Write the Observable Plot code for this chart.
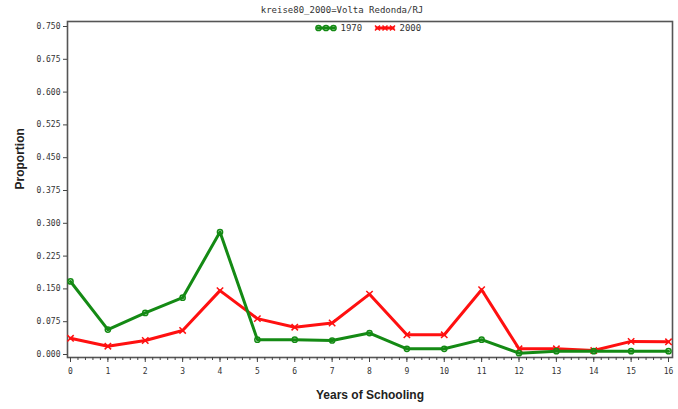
<!DOCTYPE html>
<html>
<head>
<meta charset="utf-8">
<script src="https://cdn.jsdelivr.net/npm/d3@7"></script>
<script src="https://cdn.jsdelivr.net/npm/@observablehq/plot@0.6"></script>
<style>
  body { margin: 0; background: #fff; }
</style>
</head>
<body>
<div id="chart"></div>
<script>
// Share of population by completed years of schooling, Volta Redonda/RJ
const years = [0, 1, 2, 3, 4, 5, 6, 7, 8, 9, 10, 11, 12, 13, 14, 15, 16];
const share1970 = [0.167, 0.057, 0.095, 0.130, 0.280, 0.034, 0.034, 0.032, 0.049, 0.013, 0.013, 0.034, 0.003, 0.0075, 0.0075, 0.0075, 0.0075];
const share2000 = [0.037, 0.019, 0.032, 0.055, 0.146, 0.082, 0.0625, 0.072, 0.138, 0.045, 0.045, 0.148, 0.013, 0.013, 0.009, 0.030, 0.029];
const seriesNames = ["1970", "2000"];
const seriesColors = ["#148a14", "#ff1010"];
const yTicks = [0, 0.075, 0.15, 0.225, 0.3, 0.375, 0.45, 0.525, 0.6, 0.675, 0.75];
const minorTicks = d3.range(0, 16.0001, 0.2).map(v => +v.toFixed(1));

const rows1970 = years.map((x, i) => ({x, y: share1970[i], series: seriesNames[0]}));
const rows2000 = years.map((x, i) => ({x, y: share2000[i], series: seriesNames[1]}));

const tickFont = "DejaVu Sans Mono";
const labelFont = "Liberation Sans";

const plot = Plot.plot({
  width: 678,
  height: 409,
  marginLeft: 67,
  marginRight: 6,
  marginTop: 21,
  marginBottom: 52,
  style: {fontFamily: tickFont, fontSize: "8px", color: "#333", background: "#fff", overflow: "visible"},
  x: {domain: [0, 16], insetLeft: 3, insetRight: 4, label: null},
  y: {domain: [0, 0.75], insetTop: 5, insetBottom: 3, label: null},
  marks: [
    Plot.frame({stroke: "#555", strokeWidth: 1.6}),
    Plot.axisX({ticks: minorTicks, tickSize: 3, text: null, stroke: "#444"}),
    Plot.axisX({ticks: years, tickSize: 5, tickPadding: 6, tickFormat: d3.format("d"), stroke: "#444", fill: "#333"}),
    Plot.axisY({ticks: yTicks, tickSize: 4, tickPadding: 3, tickFormat: d3.format(".3f"), stroke: "#444", fill: "#333"}),
    Plot.line(rows2000, {x: "x", y: "y", stroke: seriesColors[1], strokeWidth: 3}),
    Plot.dot(rows2000, {x: "x", y: "y", symbol: "times", r: 3, stroke: seriesColors[1], strokeWidth: 1.5}),
    Plot.line(rows1970, {x: "x", y: "y", stroke: seriesColors[0], strokeWidth: 3}),
    Plot.dot(rows1970, {x: "x", y: "y", symbol: "circle", r: 2.6, stroke: seriesColors[0], fill: "none", strokeWidth: 1.5}),
    Plot.text(["kreise80_2000=Volta Redonda/RJ"], {frameAnchor: "top", dx: -28, dy: -11, fontSize: 9, fill: "#333", lineAnchor: "middle"}),
    Plot.text(["Years of Schooling"], {frameAnchor: "bottom", dy: 38, fontFamily: labelFont, fontWeight: "bold", fontSize: 12, fill: "#222", lineAnchor: "middle"}),
    Plot.text(["Proportion"], {frameAnchor: "left", dx: -47, rotate: -90, fontFamily: labelFont, fontWeight: "bold", fontSize: 12, fill: "#222", lineAnchor: "middle"})
  ]
});

// Legend inside the top of the frame
const svg = d3.select(plot);
const cx = (67 + 672) / 2;
const ly = 28;
const legend = svg.append("g")
  .attr("font-family", tickFont).attr("font-size", 9).attr("fill", "#333")
  .attr("text-anchor", "start");
const items = [
  {name: seriesNames[0], color: seriesColors[0], x0: cx - 53, sym: "circle"},
  {name: seriesNames[1], color: seriesColors[1], x0: cx + 6, sym: "times"}
];
for (const it of items) {
  legend.append("line")
    .attr("x1", it.x0).attr("x2", it.x0 + 19).attr("y1", ly).attr("y2", ly)
    .attr("stroke", it.color).attr("stroke-width", 3);
  for (const k of [0, 1, 2]) {
    const px = it.x0 + 2 + k * 7.5;
    if (it.sym === "circle") {
      legend.append("circle").attr("cx", px).attr("cy", ly).attr("r", 2.6)
        .attr("fill", "none").attr("stroke", it.color).attr("stroke-width", 1.5);
    } else {
      legend.append("path")
        .attr("d", `M${px - 2.5},${ly - 2.5}L${px + 2.5},${ly + 2.5}M${px - 2.5},${ly + 2.5}L${px + 2.5},${ly - 2.5}`)
        .attr("stroke", it.color).attr("stroke-width", 1.5);
    }
  }
  legend.append("text")
    .attr("x", it.x0 + 24).attr("y", ly).attr("dy", "0.35em")
    .attr("text-anchor", "start").text(it.name);
}

document.getElementById("chart").appendChild(plot);
</script>
</body>
</html>
